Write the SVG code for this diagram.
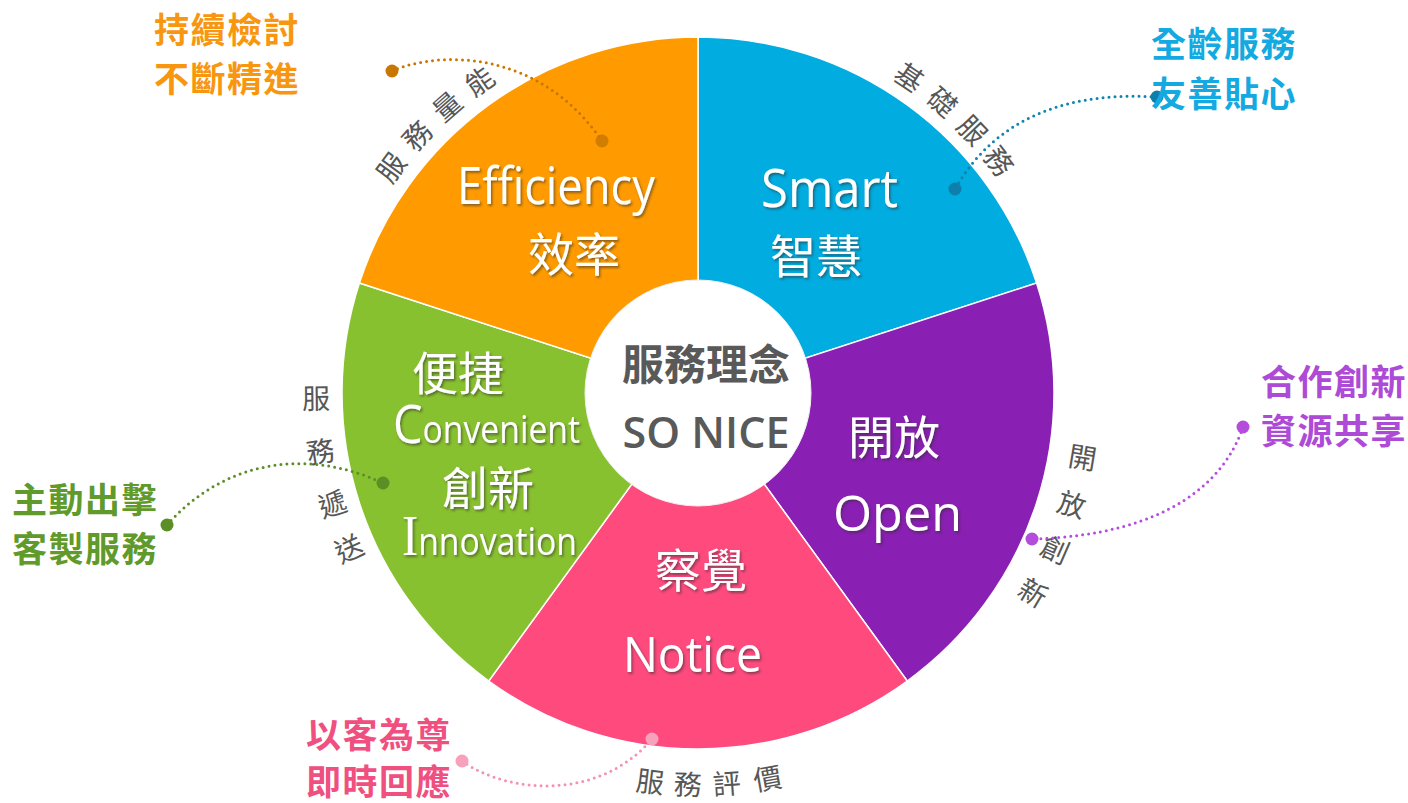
<svg xmlns="http://www.w3.org/2000/svg" width="1408" height="803" viewBox="0 0 1408 803">
<defs>
<filter id="sh" x="-20%" y="-20%" width="140%" height="140%">
<feDropShadow dx="1.5" dy="2" stdDeviation="1.2" flood-color="#333" flood-opacity="0.55"/>
</filter>
<style>
.seg{stroke:#fff;stroke-width:1.5}
.cjkw{font-family:"Noto Sans CJK TC","Noto Sans CJK SC",sans-serif;font-size:46px;fill:#fff;text-anchor:middle;filter:url(#sh)}
.latw{font-family:"Open Sans","Liberation Sans",sans-serif;fill:#fff;filter:url(#sh)}
.ctr{font-family:"Noto Sans CJK TC",sans-serif;font-size:42px;fill:#595959;text-anchor:middle;font-weight:bold}
.arc{font-family:"Noto Sans CJK TC",sans-serif;font-size:28px;fill:#575757;text-anchor:middle}
.lab{font-family:"Noto Sans CJK TC",sans-serif;font-size:35px;font-weight:bold;letter-spacing:1.5px}
.con{fill:none;stroke-width:3;stroke-linecap:round;stroke-dasharray:0 6}
</style>
</defs>
<rect width="1408" height="803" fill="#fff"/>

<g id="seg-smart">
<path class="seg" fill="#00ACE0" d="M698,393 L698,37 A356,356 0 0 1 1036.58,282.99 Z"/>
<text class="cjkw" x="816" y="273">智慧</text>
<text class="latw" x="761" y="207" font-size="53" textLength="137" lengthAdjust="spacingAndGlyphs">Smart</text>
</g>
<g id="seg-open">
<path class="seg" fill="#8A1FB3" d="M698,393 L1036.58,282.99 A356,356 0 0 1 907.25,681.01 Z"/>
<text class="cjkw" x="894" y="454">開放</text>
<text class="latw" x="833" y="531" font-size="50" textLength="129" lengthAdjust="spacingAndGlyphs">Open</text>
</g>
<g id="seg-notice">
<path class="seg" fill="#FF4A7E" d="M698,393 L907.25,681.01 A356,356 0 0 1 488.75,681.01 Z"/>
<text class="cjkw" x="701" y="587">察覺</text>
<text class="latw" x="623" y="672" font-size="49" textLength="139" lengthAdjust="spacingAndGlyphs">Notice</text>
</g>
<g id="seg-convenient">
<path class="seg" fill="#88C12F" d="M698,393 L488.75,681.01 A356,356 0 0 1 359.42,282.99 Z"/>
<text class="cjkw" x="458" y="390">便捷</text>
<text class="latw" x="393" y="443" textLength="187" lengthAdjust="spacingAndGlyphs"><tspan font-size="53">C</tspan><tspan font-size="38">onvenient</tspan></text>
<text class="cjkw" x="488" y="505">創新</text>
<text class="latw" x="402" y="555" textLength="175" lengthAdjust="spacingAndGlyphs"><tspan font-size="56" font-family="Liberation Serif, serif">I</tspan><tspan font-size="39">nnovation</tspan></text>
</g>
<g id="seg-efficiency">
<path class="seg" fill="#FF9B00" d="M698,393 L359.42,282.99 A356,356 0 0 1 698,37 Z"/>
<text class="latw" x="457" y="204" font-size="52" textLength="198" lengthAdjust="spacingAndGlyphs">Efficiency</text>
<text class="cjkw" x="574" y="271">效率</text>
</g>

<g id="center">
<circle cx="698" cy="393" r="113" fill="#fff" stroke="#f0f0f0" stroke-width="1"/>
<text class="ctr" x="706" y="380">服務理念</text>
<text x="706" y="448" font-family="Open Sans, Liberation Sans, sans-serif" font-size="44" font-weight="600" fill="#595959" text-anchor="middle" textLength="167" lengthAdjust="spacingAndGlyphs">SO NICE</text>
</g>

<g id="arc-labels">
<text class="arc" x="698" y="22.6" transform="rotate(-53.7 698 393)">服</text>
<text class="arc" x="698" y="22.6" transform="rotate(-47.5 698 393)">務</text>
<text class="arc" x="698" y="22.6" transform="rotate(-41.2 698 393)">量</text>
<text class="arc" x="698" y="22.6" transform="rotate(-35 698 393)">能</text>

<text class="arc" x="698" y="23.6" transform="rotate(33.8 698 393)">基</text>
<text class="arc" x="698" y="23.6" transform="rotate(40 698 393)">礎</text>
<text class="arc" x="698" y="23.6" transform="rotate(46.2 698 393)">服</text>
<text class="arc" x="698" y="23.6" transform="rotate(52.4 698 393)">務</text>

<text class="arc" x="316" y="403.6" transform="rotate(-0.8 698 393)">服</text>
<text class="arc" x="316" y="403.6" transform="rotate(-8.8 698 393)">務</text>
<text class="arc" x="316" y="403.6" transform="rotate(-16.9 698 393)">遞</text>
<text class="arc" x="316" y="403.6" transform="rotate(-24 698 393)">送</text>

<text class="arc" x="1088" y="403.6" transform="rotate(9.5 698 393)">開</text>
<text class="arc" x="1088" y="403.6" transform="rotate(16.6 698 393)">放</text>
<text class="arc" x="1088" y="403.6" transform="rotate(23.7 698 393)">創</text>
<text class="arc" x="1088" y="403.6" transform="rotate(30.8 698 393)">新</text>

<text class="arc" x="698" y="795" transform="rotate(7 698 393)">服</text>
<text class="arc" x="698" y="795" transform="rotate(1.5 698 393)">務</text>
<text class="arc" x="698" y="795" transform="rotate(-4.2 698 393)">評</text>
<text class="arc" x="698" y="795" transform="rotate(-10.2 698 393)">價</text>
</g>

<g id="connectors">
<path class="con" stroke="#C87800" d="M392,71 C440,50 540,50 602,141"/>
<circle cx="392" cy="71" r="6.5" fill="#C87800"/>
<circle cx="602" cy="141" r="6.5" fill="#C87800" fill-opacity="0.85"/>

<path class="con" stroke="#0E84AE" d="M1157,97 C1080,92 1000,110 955,189"/>
<circle cx="1157" cy="97" r="6.5" fill="#0E7FAA"/>
<circle cx="955" cy="189" r="6.5" fill="#0E7FAA"/>

<path class="con" stroke="#B44DDB" d="M1243,427 C1225,480 1170,535 1032,539"/>
<circle cx="1243" cy="427" r="6.5" fill="#B44DDB"/>
<circle cx="1032" cy="539" r="6.5" fill="#B44DDB"/>

<path class="con" stroke="#F591B1" d="M462,761 C510,795 600,800 652,739"/>
<circle cx="462" cy="761" r="6.5" fill="#F7A1BC"/>
<circle cx="652" cy="739" r="6.5" fill="#F7A1BC"/>

<path class="con" stroke="#5B8F26" d="M167,525 C220,465 300,445 383,483"/>
<circle cx="167" cy="525" r="6.5" fill="#5B8F26"/>
<circle cx="383" cy="483" r="6.5" fill="#5B8F26"/>
</g>

<g id="label-efficiency" class="lab" fill="#F8960F">
<text x="154" y="42.5">持續檢討</text>
<text x="154" y="91.5">不斷精進</text>
</g>
<g id="label-smart" class="lab" fill="#14A9E1">
<text x="1151" y="57">全齡服務</text>
<text x="1151" y="106.5">友善貼心</text>
</g>
<g id="label-open" class="lab" fill="#AE4BD6">
<text x="1261" y="395">合作創新</text>
<text x="1261" y="444">資源共享</text>
</g>
<g id="label-convenient" class="lab" fill="#5F9A2A">
<text x="12" y="513">主動出擊</text>
<text x="12" y="562">客製服務</text>
</g>
<g id="label-notice" class="lab" fill="#F0507F">
<text x="306" y="748">以客為尊</text>
<text x="306" y="795">即時回應</text>
</g>
</svg>
